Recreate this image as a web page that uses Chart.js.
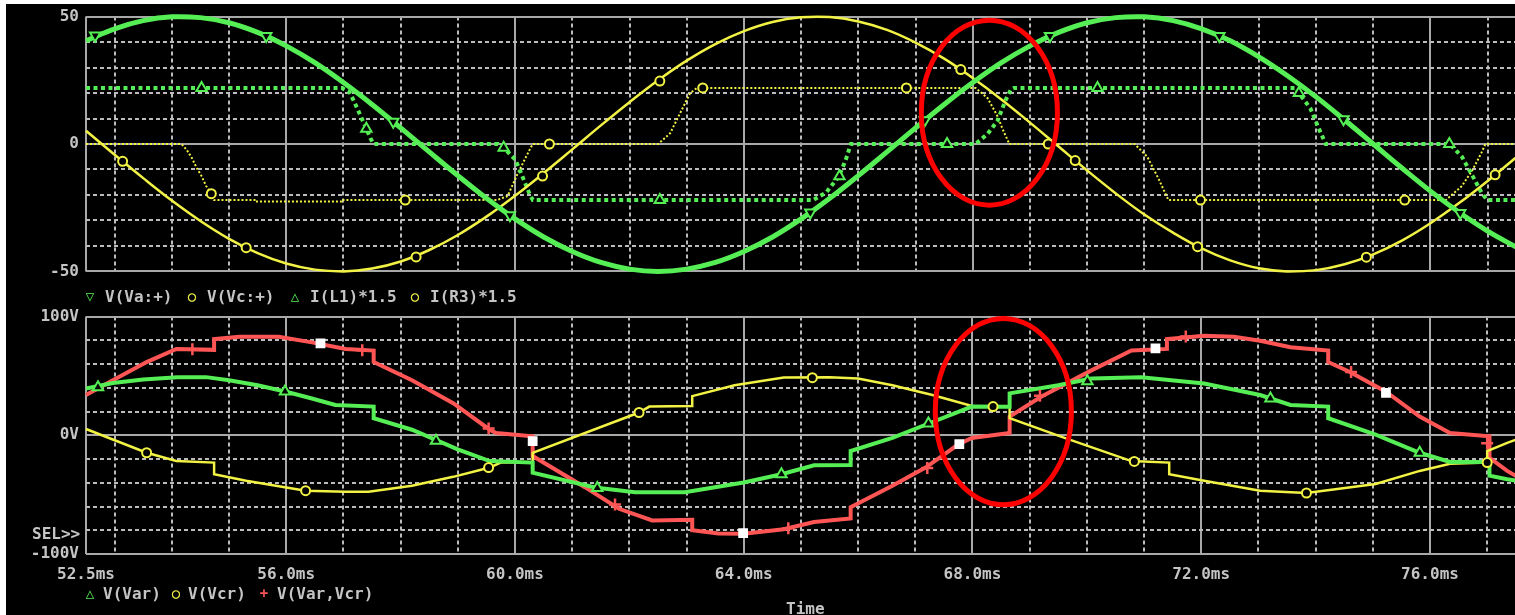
<!DOCTYPE html>
<html>
<head>
<meta charset="utf-8">
<script src="https://cdn.jsdelivr.net/npm/chart.js@4.4.0/dist/chart.umd.min.js"></script>
<style>
  html, body { margin: 0; padding: 0; background: #fff; width: 1515px; height: 615px; overflow: hidden; }
  #scope { position: absolute; left: 6px; top: 4px; right: 0; bottom: 0; background: #000; }
  canvas { position: absolute; left: 0; }
  #topChart { top: 0; }
  #bottomChart { top: 300px; }
  .txt { position: absolute; font: bold 16px "DejaVu Sans Mono", monospace; line-height: 16px; color: #c4c4c4; white-space: pre; }
  .sym { position: absolute; font: bold 14px "DejaVu Sans Mono", monospace; line-height: 14px; transform: translateX(-50%); }
  .g { color: #55ee55; } .y { color: #f2f244; } .r { color: #ff5555; }
</style>
</head>
<body>
<div id="scope"></div>
<canvas id="topChart" width="1530" height="288"></canvas>
<canvas id="bottomChart" width="1530" height="315"></canvas>

<span class="sym g" style="left:90px; top:289px">▽</span><span class="txt" style="left:105px; top:289px">V(Va:+)</span>
<span class="sym y" style="left:192px; top:289px">○</span><span class="txt" style="left:207px; top:289px">V(Vc:+)</span>
<span class="sym g" style="left:295px; top:289px">△</span><span class="txt" style="left:310px; top:289px">I(L1)*1.5</span>
<span class="sym y" style="left:415px; top:289px">○</span><span class="txt" style="left:430px; top:289px">I(R3)*1.5</span>

<span class="txt" style="left:32px; top:526px">SEL&gt;&gt;</span>

<span class="sym g" style="left:90px; top:586px">△</span><span class="txt" style="left:103px; top:586px">V(Var)</span>
<span class="sym y" style="left:176px; top:586px">○</span><span class="txt" style="left:188px; top:586px">V(Vcr)</span>
<span class="sym r" style="left:264px; top:586px">+</span><span class="txt" style="left:277px; top:586px">V(Var,Vcr)</span>
<span class="txt" style="left:786px; top:601px">Time</span>

<script>
// axis ticks (ms / units)
const timeTicks = [52.5, 53, 54, 55, 56, 57, 58, 59, 60, 61, 62, 63, 64, 65, 66, 67, 68, 69, 70, 71, 72, 73, 74, 75, 76, 77];
const timeLabels = [52.5, 56, 60, 64, 68, 72, 76];
const topTicks = [-50, -40, -30, -20, -10, 0, 10, 20, 30, 40, 50];
const topLabels = [-50, 0, 50];
const bottomTicks = [-100, -80, -60, -40, -20, 0, 20, 40, 60, 80, 100];
const bottomLabels = [-100, 0, 100];

// top plot: source voltages, sampled every 0.5 ms
const sineTime = [52.5, 53, 53.5, 54, 54.5, 55, 55.5, 56, 56.5, 57, 57.5, 58, 58.5, 59, 59.5, 60, 60.5, 61, 61.5, 62, 62.5,
  63, 63.5, 64, 64.5, 65, 65.5, 66, 66.5, 67, 67.5, 68, 68.5, 69, 69.5, 70, 70.5, 71, 71.5, 72, 72.5, 73, 73.5, 74, 74.5, 75,
  75.5, 76, 76.5, 77, 77.5];
const vaValues = [40.5, 45.2, 48.4, 49.9, 49.6, 47.6, 43.8, 38.5, 31.9, 24.1, 15.5, 6.3, -3.1, -12.4, -21.3, -29.4, -36.5, -42.2, -46.5, -49.1, -50,
  -49.1, -46.5, -42.2, -36.5, -29.4, -21.3, -12.4, -3.1, 6.3, 15.5, 24.1, 31.9, 38.5, 43.8, 47.6, 49.6, 49.9, 48.4, 45.2, 40.5, 34.2, 26.8, 18.5, 9.4, 0,
  -9.4, -18.5, -26.8, -34.2, -40.5];
const vcValues = [5.2, -4.2, -13.4, -22.2, -30.2, -37.2, -42.8, -46.9, -49.3, -50, -48.9, -46.1, -41.6, -35.7, -28.5, -20.3, -11.4, -2.1, 7.3, 16.4, 25,
  32.7, 39.2, 44.3, 47.9, 49.7, 49.8, 48.1, 44.8, 39.8, 33.5, 25.9, 17.5, 8.4, -1, -10.4, -19.4, -27.7, -34.8, -41, -45.7, -48.8, -50, -49.5, -47.2, -43.3,
  -37.9, -31.1, -23.2, -14.5, -5.2];

// top plot: scaled currents
const il1Time = [52.5, 56.97, 57.1, 57.18, 57.3, 57.4, 57.47, 57.53, 59.7, 59.8, 60.0, 60.08, 60.17, 60.26, 60.31, 65.21, 65.44, 65.66, 65.78, 65.87,
  68.05, 68.26, 68.43, 68.57, 68.67, 68.72, 73.65, 73.7, 73.9, 74.04, 74.17, 76.34, 76.55, 76.74, 76.89, 76.99, 77.6];
const il1Values = [22, 22, 20.5, 17, 11, 6, 2.3, 0, 0, -1.5, -6, -10, -15, -20, -22, -22, -19, -12.7, -6.2, 0,
  0, 4, 9, 17, 21.5, 22, 22, 20, 14, 6.5, 0, 0, -5, -12.7, -19, -22, -22];
const ir3Time = [52.5, 54.17, 54.26, 54.34, 54.43, 54.52, 54.6, 54.67, 54.74, 55.47, 55.47, 56.97, 56.97, 59.69, 59.87, 60.05, 60.17, 60.26, 60.31,
  62.5, 62.71, 62.88, 63.06, 63.18, 68.05, 68.26, 68.43, 68.53, 68.64, 70.83, 71.05, 71.25, 71.42, 76.27, 76.55, 76.74, 76.89, 76.96, 77.6];
const ir3Values = [0, 0, -2.3, -5, -9.2, -12.6, -16.5, -18.8, -22, -22, -22.6, -22.6, -22, -22, -20.4, -11.4, -6, -2, 0,
  0, 4.2, 11.9, 20, 22, 22, 18, 11, 5.4, 0, 0, -5, -13.8, -22, -22, -16.5, -10, -3.5, 0, 0];

// top plot markers
const vaMarkTime = [52.66, 55.65, 57.87, 59.91, 65.16, 67.16, 69.35, 72.31, 74.48, 76.52];
const vaMarkValues = [42.6, 42.4, 8.7, -28, -26.9, 9.3, 42.4, 42.4, 9.7, -27.1];
const vcMarkTime = [53.14, 55.3, 58.27, 60.48, 62.53, 67.79, 69.79, 71.93, 74.88, 77.13];
const vcMarkValues = [-6.8, -40.7, -44.3, -12.6, 24.7, 29.2, -6.5, -40.3, -44.4, -12.1];
const il1MarkTime = [54.52, 57.4, 59.8, 62.53, 65.67, 67.55, 70.18, 73.7, 76.33];
const il1MarkValues = [22, 6, -1.5, -22, -12.7, 0, 22, 20, 0];
const ir3MarkTime = [54.69, 58.08, 60.6, 63.28, 66.84, 69.32, 71.98, 75.55];
const ir3MarkValues = [-19.5, -22, 0, 22, 22, 0, -22, -22];

// bottom plot
const varTime = [52.5, 52.97, 53.5, 54.1, 54.6, 55.0, 55.5, 56.0, 56.45, 56.86, 57.53, 57.53, 58.2, 59.0, 59.56, 60.31, 60.31, 61.4, 62.1, 62.97,
  64.0, 64.66, 65.23, 65.87, 65.87, 66.6, 67.18, 67.99, 68.65, 68.65, 69.5, 70.08, 70.95, 72.05, 73.03, 73.56, 74.22, 74.22, 75.05, 75.82,
  76.35, 77.04, 77.04, 77.35, 77.6];
const varValues = [39.4, 44, 47, 49, 49, 46.4, 42.2, 36.7, 31, 25.6, 24.2, 14.4, 4.7, -11.9, -21.7, -23, -31.4, -43.9, -48, -48,
  -39.7, -32.8, -25.3, -25, -13.3, -2.2, 8.9, 24.2, 24, 35.3, 42.2, 47.8, 49, 43.6, 33.9, 25.6, 24.2, 14.4, 0.6, -14.7,
  -22.5, -22.5, -34, -37, -39];
const vcrTime = [52.5, 53.56, 54.08, 54.74, 54.74, 55.3, 56.34, 57.04, 57.44, 58.2, 58.92, 59.56, 59.75, 60.31, 60.31, 62.17, 62.35, 63.1, 63.1,
  63.84, 64.7, 65.5, 66.0, 66.6, 67.3, 67.99, 68.65, 68.65, 69.61, 70.78, 71.44, 71.44, 72.05, 73.03, 73.84, 75.05, 75.82, 76.35, 77.0, 77.0,
  77.35, 77.6];
const vcrValues = [5.3, -14.7, -21.7, -23, -32.8, -38.3, -46.7, -47.5, -47.5, -42.5, -35, -27.2, -23, -22.5, -14.7, 19.2, 24.2, 24.7, 33,
  42.2, 48.6, 49, 47.8, 42.2, 34, 24.7, 24.2, 14.4, -2.2, -21.7, -23, -32.8, -38.3, -46.7, -48.6, -41, -30, -24, -23, -13.3,
  -6.4, -2];
const diffTime = [52.5, 52.97, 53.56, 54.08, 54.74, 54.74, 55.18, 55.87, 56.45, 57.04, 57.53, 57.53, 58.2, 58.92, 59.56, 59.67, 60.31, 60.31,
  61.23, 61.82, 62.4, 63.1, 63.1, 63.56, 64.0, 64.7, 65.23, 65.87, 65.87, 66.6, 67.18, 67.75, 67.99, 68.65, 68.65, 69.2, 70.08, 70.78,
  71.4, 71.4, 72.05, 72.57, 73.03, 73.56, 74.22, 74.22, 74.6, 75.23, 75.82, 76.35, 77.04, 77.04, 77.35, 77.6];
const diffValues = [33.9, 46.4, 61.7, 72.8, 72, 81, 83, 83, 78.3, 72.8, 71.4, 61.7, 46.4, 27, 4.7, 2, -0.8, -17.5,
  -43.9, -61.9, -71.7, -71.1, -80, -82.8, -83, -79.2, -73, -70, -60.6, -42.5, -27.2, -7.8, -2.2, 2, 15.8, 32.5, 54.7, 71.4,
  72.8, 81, 83.9, 83, 79.7, 74.2, 71.4, 61.7, 53.3, 36.7, 15.8, 2, -0.8, -18.9, -30, -37];

// bottom plot markers
const varMarkTime = [52.71, 55.98, 58.62, 61.44, 64.66, 67.23, 70.01, 73.21, 75.82];
const varMarkValues = [40.5, 37, -4.5, -44.5, -32.8, 10, 45.5, 31, -14.7];
const vcrMarkTime = [53.56, 56.34, 59.54, 62.17, 65.2, 68.36, 70.83, 73.84, 77.0];
const vcrMarkValues = [-14.7, -46.7, -27.2, 19.2, 48.5, 24.2, -22, -48.6, -23];
const diffMarkTime = [54.36, 57.33, 59.54, 61.75, 64.78, 67.21, 69.18, 71.73, 74.62, 77.0];
const diffMarkValues = [72.5, 71.7, 5.8, -58.3, -78.3, -27.5, 33.3, 83.3, 53.3, -6.7];
const selMarkTime = [56.6, 60.31, 63.99, 67.77, 71.2, 75.23];
const selMarkValues = [77.5, -5, -82.5, -7.5, 73.3, 35.8];

const GREEN = '#55ee55', YELLOW = '#f2f244', RED = '#ff5555', TEXT = '#c4c4c4';
const FONT = { family: 'DejaVu Sans Mono', size: 16, weight: 'bold' };

const pts = (xs, ys) => xs.map((x, i) => ({ x, y: ys[i] }));

function trace(xs, ys, color, width, dash, tension) {
  return {
    data: pts(xs, ys), borderColor: color, borderWidth: width, borderDash: dash || [],
    pointRadius: 0, tension: tension || 0, fill: false, clip: 6, order: 2
  };
}

function marks(xs, ys, color, style, opts) {
  opts = opts || {};
  return {
    data: pts(xs, ys), showLine: false, borderColor: color,
    pointStyle: style, pointRadius: opts.radius || 6, pointRotation: opts.rotation || 0,
    pointBorderColor: color, pointBackgroundColor: opts.fill || '#000', pointBorderWidth: opts.width || 2,
    clip: 10, order: 1
  };
}

// dashed/solid scope grid drawn from the scales
const scopeGrid = {
  id: 'scopeGrid',
  beforeDatasetsDraw(chart, args, opts) {
    const { ctx, chartArea: a, scales: { x, y } } = chart;
    ctx.save();
    ctx.lineWidth = 2;
    const line = (x0, y0, x1, y1, major) => {
      ctx.setLineDash(major ? [] : [4, 3]);
      ctx.strokeStyle = major ? '#a8a8a8' : '#bcbcbc';
      ctx.beginPath(); ctx.moveTo(x0, y0); ctx.lineTo(x1, y1); ctx.stroke();
    };
    timeTicks.forEach(t => {
      const px = Math.round(x.getPixelForValue(t));
      line(px, a.top, px, a.bottom, timeLabels.includes(t));
    });
    opts.ticks.forEach(v => {
      const py = Math.round(y.getPixelForValue(v));
      line(a.left, py, a.right, py, opts.major.includes(v));
    });
    ctx.restore();
  }
};

const markEllipse = {
  id: 'markEllipse',
  afterDatasetsDraw(chart, args, opts) {
    const { ctx, scales: { x, y } } = chart;
    const cx = x.getPixelForValue(opts.t), cy = y.getPixelForValue(opts.v);
    const rx = x.getPixelForValue(opts.t + opts.dt) - cx;
    const ry = cy - y.getPixelForValue(opts.v + opts.dv);
    ctx.save();
    ctx.strokeStyle = '#ff0000';
    ctx.lineWidth = 5;
    ctx.beginPath();
    ctx.ellipse(cx, cy, rx, ry, 0, 0, Math.PI * 2);
    ctx.stroke();
    ctx.restore();
  }
};

function yAxis(min, max, ticks, labels, unit) {
  return {
    min, max,
    grid: { display: false, drawTicks: false }, border: { display: false },
    afterBuildTicks: s => { s.ticks = ticks.map(v => ({ value: v })); },
    afterFit: s => { s.width = 86; },
    ticks: {
      color: TEXT, font: FONT, padding: 7, autoSkip: false,
      callback: v => labels.includes(v) ? v + unit : ''
    }
  };
}

new Chart(document.getElementById('topChart'), {
  type: 'line',
  data: {
    datasets: [
      marks(vaMarkTime, vaMarkValues, GREEN, 'triangle', { rotation: 180 }),
      marks(vcMarkTime, vcMarkValues, YELLOW, 'circle', { radius: 4.5 }),
      marks(il1MarkTime, il1MarkValues, GREEN, 'triangle'),
      marks(ir3MarkTime, ir3MarkValues, YELLOW, 'circle', { radius: 4.5 }),
      trace(sineTime, vaValues, GREEN, 5, [], 0.4),
      trace(sineTime, vcValues, YELLOW, 2.5, [], 0.4),
      trace(il1Time, il1Values, GREEN, 4, [4, 3.5]),
      trace(ir3Time, ir3Values, YELLOW, 2, [2, 2])
    ]
  },
  options: {
    responsive: false, animation: false, events: [], devicePixelRatio: 1,
    layout: { padding: { left: 0, top: 14, right: 0, bottom: 13 } },
    plugins: {
      legend: { display: false }, tooltip: { enabled: false },
      scopeGrid: { ticks: topTicks, major: topLabels },
      markEllipse: { t: 68.29, v: 12.3, dt: 1.19, dv: 36.3 }
    },
    scales: {
      x: { type: 'linear', min: 52.5, max: 77.6, display: false },
      y: yAxis(-50, 50, topTicks, topLabels, '')
    }
  },
  plugins: [scopeGrid, markEllipse]
});

new Chart(document.getElementById('bottomChart'), {
  type: 'line',
  data: {
    datasets: [
      marks(selMarkTime, selMarkValues, '#ffffff', 'rect', { radius: 5.5, fill: '#ffffff' }),
      marks(varMarkTime, varMarkValues, GREEN, 'triangle'),
      marks(vcrMarkTime, vcrMarkValues, YELLOW, 'circle', { radius: 4.5 }),
      marks(diffMarkTime, diffMarkValues, RED, 'cross', { radius: 6, width: 2.5 }),
      trace(varTime, varValues, GREEN, 4),
      trace(vcrTime, vcrValues, YELLOW, 2.5),
      trace(diffTime, diffValues, RED, 4)
    ]
  },
  options: {
    responsive: false, animation: false, events: [], devicePixelRatio: 1,
    layout: { padding: { left: 0, top: 14, right: 0, bottom: 21 } },
    plugins: {
      legend: { display: false }, tooltip: { enabled: false },
      scopeGrid: { ticks: bottomTicks, major: bottomLabels },
      markEllipse: { t: 68.54, v: 20, dt: 1.19, dv: 78.5 }
    },
    scales: {
      x: {
        type: 'linear', min: 52.5, max: 77.6,
        grid: { display: false, drawTicks: false }, border: { display: false },
        afterBuildTicks: s => { s.ticks = timeTicks.map(v => ({ value: v })); },
        afterFit: s => { s.height = 40; },
        ticks: {
          color: TEXT, font: FONT, padding: 11, autoSkip: false, maxRotation: 0,
          callback: v => timeLabels.includes(v) ? v.toFixed(1) + 'ms' : ''
        }
      },
      y: yAxis(-100, 100, bottomTicks, bottomLabels, 'V')
    }
  },
  plugins: [scopeGrid, markEllipse]
});
</script>
</body>
</html>
